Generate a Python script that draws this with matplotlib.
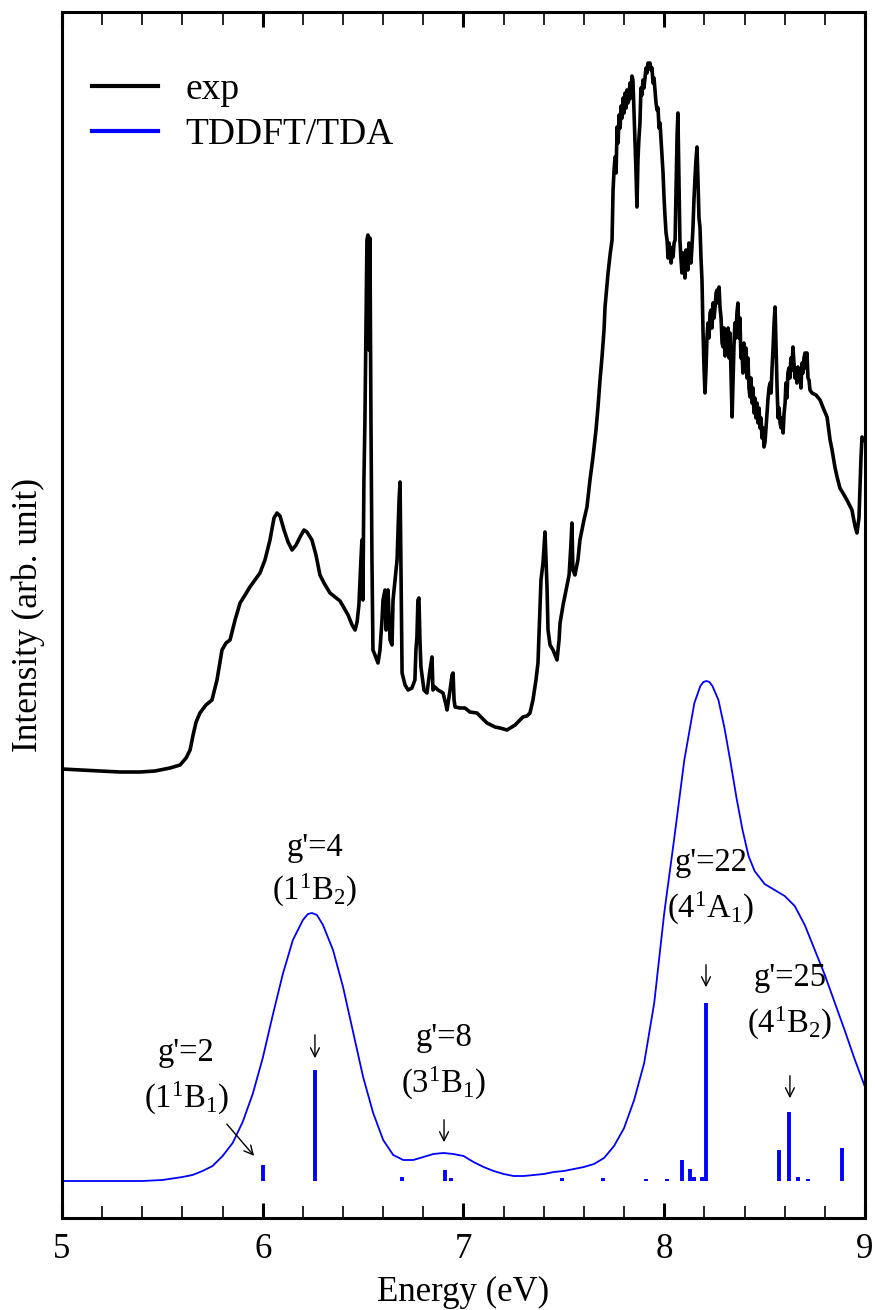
import numpy as np
import matplotlib
matplotlib.use('Agg')
import matplotlib.pyplot as plt
from matplotlib.lines import Line2D

plt.rcParams['font.family'] = ['Liberation Serif', 'DejaVu Serif']
plt.rcParams['mathtext.fontset'] = 'custom'
plt.rcParams['mathtext.rm'] = 'Liberation Serif'
plt.rcParams['mathtext.default'] = 'rm'

## experimental spectrum (energy in eV, intensity in arb. unit)
e_exp = [5.000, 5.090, 5.189, 5.289, 5.389, 5.463, 5.538, 5.588, 5.618, 5.638, 5.653, 5.668, 5.687,
         5.717, 5.747, 5.772, 5.797, 5.817, 5.837, 5.862, 5.887, 5.912, 5.936, 5.961, 5.986, 6.011,
         6.036, 6.056, 6.071, 6.086, 6.106, 6.126, 6.146, 6.166, 6.186, 6.205, 6.220, 6.245, 6.265,
         6.285, 6.305, 6.335, 6.360, 6.385, 6.405, 6.425, 6.445, 6.460, 6.470, 6.479, 6.489, 6.494,
         6.499, 6.504, 6.509, 6.514, 6.519, 6.524, 6.529, 6.534, 6.539, 6.544, 6.549, 6.559, 6.574,
         6.584, 6.594, 6.599, 6.609, 6.614, 6.619, 6.624, 6.634, 6.644, 6.649, 6.659, 6.669, 6.679,
         6.684, 6.689, 6.694, 6.709, 6.724, 6.743, 6.758, 6.763, 6.768, 6.773, 6.778, 6.783, 6.788,
         6.803, 6.818, 6.833, 6.843, 6.848, 6.858, 6.873, 6.898, 6.913, 6.918, 6.933, 6.943, 6.948,
         6.953, 6.958, 6.983, 7.007, 7.032, 7.067, 7.092, 7.117, 7.157, 7.182, 7.217, 7.257, 7.281,
         7.296, 7.316, 7.331, 7.346, 7.361, 7.371, 7.381, 7.386, 7.396, 7.406, 7.411, 7.416, 7.421,
         7.431, 7.446, 7.466, 7.476, 7.481, 7.496, 7.511, 7.526, 7.535, 7.540, 7.545, 7.555, 7.570,
         7.580, 7.600, 7.615, 7.630, 7.645, 7.660, 7.670, 7.680, 7.690, 7.700, 7.705, 7.715, 7.720,
         7.730, 7.740, 7.745, 7.750, 7.755, 7.760, 7.765, 7.770, 7.775, 7.780, 7.785, 7.790, 7.795,
         7.800, 7.805, 7.810, 7.814, 7.819, 7.824, 7.829, 7.834, 7.839, 7.844, 7.849, 7.854, 7.859,
         7.864, 7.869, 7.874, 7.879, 7.884, 7.889, 7.894, 7.899, 7.904, 7.909, 7.914, 7.919, 7.924,
         7.929, 7.934, 7.939, 7.944, 7.949, 7.954, 7.959, 7.964, 7.969, 7.974, 7.979, 7.984, 7.989,
         7.994, 7.999, 8.004, 8.009, 8.014, 8.019, 8.024, 8.029, 8.034, 8.039, 8.044, 8.049, 8.054,
         8.059, 8.064, 8.068, 8.073, 8.078, 8.083, 8.088, 8.093, 8.098, 8.103, 8.108, 8.113, 8.118,
         8.123, 8.128, 8.133, 8.138, 8.143, 8.148, 8.153, 8.158, 8.163, 8.168, 8.173, 8.178, 8.183,
         8.188, 8.193, 8.198, 8.203, 8.208, 8.213, 8.218, 8.223, 8.228, 8.233, 8.238, 8.243, 8.248,
         8.253, 8.258, 8.263, 8.268, 8.273, 8.278, 8.283, 8.288, 8.293, 8.298, 8.303, 8.308, 8.313,
         8.318, 8.323, 8.328, 8.333, 8.338, 8.342, 8.347, 8.352, 8.357, 8.362, 8.367, 8.372, 8.377,
         8.382, 8.387, 8.392, 8.397, 8.402, 8.407, 8.412, 8.417, 8.422, 8.427, 8.432, 8.437, 8.442,
         8.447, 8.452, 8.457, 8.462, 8.467, 8.472, 8.477, 8.482, 8.487, 8.492, 8.497, 8.502, 8.507,
         8.512, 8.517, 8.522, 8.527, 8.532, 8.537, 8.542, 8.547, 8.552, 8.557, 8.562, 8.567, 8.572,
         8.577, 8.582, 8.587, 8.592, 8.597, 8.602, 8.606, 8.611, 8.616, 8.621, 8.626, 8.631, 8.636,
         8.641, 8.646, 8.651, 8.656, 8.661, 8.666, 8.671, 8.676, 8.681, 8.686, 8.691, 8.696, 8.701,
         8.706, 8.711, 8.716, 8.721, 8.726, 8.736, 8.756, 8.776, 8.796, 8.811, 8.826, 8.836, 8.851,
         8.861, 8.875, 8.890, 8.910, 8.935, 8.950, 8.960, 8.970, 8.980, 8.985, 8.995]
i_exp = [449, 448, 447, 446, 446, 447, 450, 453, 460, 468, 483, 496, 505,
         513, 518, 538, 568, 575, 578, 598, 615, 623, 631, 638, 645, 658,
         678, 700, 705, 702, 688, 676, 668, 673, 681, 688, 686, 678, 663,
         643, 635, 625, 621, 617, 610, 603, 593, 588, 596, 613, 658, 678,
         618, 738, 798, 888, 978, 983, 868, 980, 798, 658, 568, 563, 555,
         568, 598, 618, 628, 588, 623, 628, 578, 573, 618, 638, 658, 718,
         736, 638, 545, 533, 528, 530, 538, 568, 581, 618, 620, 578, 551,
         528, 525, 548, 561, 528, 531, 528, 525, 513, 508, 528, 543, 545,
         518, 511, 510, 510, 506, 505, 500, 495, 491, 490, 488, 493, 498,
         501, 502, 505, 518, 538, 555, 611, 638, 655, 686, 658, 631, 588,
         573, 568, 558, 578, 595, 613, 628, 643, 673, 695, 648, 643, 658,
         678, 698, 711, 738, 761, 788, 811, 838, 861, 888, 911, 933, 945,
         963, 978, 1028, 1048, 1061, 1045, 1091, 1075, 1103, 1090, 1112, 1100, 1120,
         1105, 1125, 1110, 1128, 1115, 1118, 1135, 1120, 1142, 1138, 1108, 1080, 1048,
         1011, 1058, 1080, 1095, 1130, 1123, 1138, 1130, 1140, 1150, 1145, 1155, 1150,
         1155, 1148, 1150, 1135, 1140, 1128, 1115, 1108, 1110, 1090, 1095, 1078, 1060,
         1045, 1020, 1001, 985, 978, 960, 975, 968, 955, 970, 961, 975, 978,
         1028, 1083, 1105, 1038, 978, 960, 945, 965, 958, 940, 968, 961, 948,
         975, 968, 955, 971, 990, 1018, 1040, 1058, 1071, 1038, 1000, 991, 960,
         938, 888, 850, 825, 848, 881, 895, 880, 905, 908, 890, 915, 900,
         911, 925, 928, 915, 931, 910, 900, 875, 871, 890, 862, 885, 870,
         890, 860, 885, 840, 801, 830, 870, 895, 880, 905, 915, 880, 900,
         860, 868, 845, 875, 850, 870, 840, 860, 830, 821, 840, 815, 830,
         805, 820, 800, 815, 795, 810, 790, 800, 780, 790, 771, 776, 790,
         805, 820, 830, 835, 825, 850, 870, 895, 911, 870, 830, 800, 810,
         795, 790, 800, 785, 805, 815, 835, 820, 845, 850, 840, 860, 848,
         871, 855, 840, 850, 835, 851, 840, 845, 830, 855, 845, 860, 865,
         850, 865, 840, 838, 828, 825, 823, 818, 808, 801, 778, 768, 750,
         741, 730, 725, 718, 708, 692, 685, 700, 760, 781, 778]

## TDDFT/TDA broadened spectrum
e_calc = [5.000, 5.200, 5.400, 5.500, 5.600, 5.650, 5.700, 5.750, 5.800, 5.850, 5.900, 5.950,
          6.000, 6.050, 6.100, 6.150, 6.200, 6.225, 6.245, 6.270, 6.300, 6.350, 6.400, 6.450,
          6.500, 6.550, 6.600, 6.650, 6.700, 6.750, 6.800, 6.850, 6.900, 6.950, 7.000, 7.050,
          7.100, 7.150, 7.200, 7.250, 7.300, 7.350, 7.400, 7.450, 7.500, 7.550, 7.600, 7.650,
          7.700, 7.750, 7.800, 7.850, 7.900, 7.950, 8.000, 8.050, 8.100, 8.150, 8.180, 8.195,
          8.210, 8.225, 8.240, 8.270, 8.300, 8.330, 8.360, 8.390, 8.420, 8.450, 8.500, 8.550,
          8.600, 8.650, 8.700, 8.750, 8.800, 8.850, 8.900, 8.950, 9.000]
i_calc = [37, 37, 37, 38, 41, 43, 47, 52, 62, 75, 96, 124,
          160, 203, 244, 278, 298, 304, 305, 303, 293, 268, 231, 186,
          141, 105, 78, 63, 58, 58, 61, 64, 65, 64, 62, 56,
          51, 47, 44, 42, 42, 43, 44, 46, 47, 49, 51, 54,
          60, 72, 90, 118, 155, 215, 305, 380, 458, 515, 532, 536,
          537, 536, 532, 518, 490, 456, 420, 388, 362, 347, 334, 328,
          322, 312, 293, 268, 243, 215, 187, 158, 131]

## oscillator strengths (sticks)
calc_offset = 37
e_stick = [6.001, 6.260, 6.694, 6.908, 6.938, 7.491, 7.695, 7.909, 8.014, 8.088, 8.128, 8.148,
           8.188, 8.208, 8.572, 8.621, 8.666, 8.716, 8.885]
i_stick = [53, 148, 41, 48, 40, 40, 40, 39, 39, 58, 49, 41,
           41, 215, 68, 106, 41, 39, 70]

## state labels: text, x, y of "g'" line, y of symmetry line
lab_g = ["g'=2", "g'=4", "g'=8", "g'=22", "g'=25"]
lab_sym = [r'(1$^1$B$_1$)', r'(1$^1$B$_2$)', r'(3$^1$B$_1$)', r'(4$^1$A$_1$)', r'(4$^1$B$_2$)']
lab_x = [5.62, 6.26, 6.903, 8.233, 8.626]
lab_yg = [165, 370, 180, 355, 240]
lab_ys = [120, 328, 135, 310, 195]
# arrows: start (x, y) -> end (x, y)
arr_x0 = [5.812, 6.260, 6.903, 8.208, 8.626]
arr_y0 = [96, 186, 101, 256, 145]
arr_x1 = [5.966, 6.260, 6.903, 8.208, 8.626]
arr_y1 = [60, 157, 73, 228, 117]

fig = plt.figure(figsize=(8.75, 13.10), dpi=100)
ax = fig.add_axes([62/875., 1-1218/1310., 803/875., 1206/1310.])

ax.plot(e_exp, i_exp, color='k', lw=2.6)
ax.plot(e_calc, i_calc, color='#0000ff', lw=1.3)
ax.vlines(e_stick, calc_offset, i_stick, color='#0000ff', lw=2.8)

for k in range(len(lab_g)):
    ax.text(lab_x[k], lab_yg[k], lab_g[k], ha='center', va='center', fontsize=23.5)
    ax.text(lab_x[k], lab_ys[k], lab_sym[k], ha='center', va='center', fontsize=23.5)
    ax.annotate('', xy=(arr_x1[k], arr_y1[k]), xytext=(arr_x0[k], arr_y0[k]),
                arrowprops=dict(arrowstyle='->', lw=1.0, color='k', mutation_scale=16))

ax.set_xlim(5, 9)
ax.set_ylim(0, 1206)
ax.set_xticks([5, 6, 7, 8, 9])
ax.set_xticks(np.arange(5, 9.01, 0.2), minor=True)
ax.set_yticks([])
ax.tick_params(axis='x', which='both', direction='in', top=True, labelsize=25, pad=11)
ax.tick_params(axis='x', which='major', length=11, width=2.2)
ax.tick_params(axis='x', which='minor', length=9, width=1.2)
for s in ax.spines.values():
    s.set_linewidth(2.2)

ax.set_xlabel('Energy (eV)', fontsize=25, labelpad=7)
ax.set_ylabel('Intensity (arb. unit)', fontsize=25.5, labelpad=12)

handles = [Line2D([], [], color='k', lw=3), Line2D([], [], color='#0000ff', lw=3)]
ax.legend(handles, ['exp', 'TDDFT/TDA'], loc='upper left', frameon=False, fontsize=27,
          handlelength=1.75, handletextpad=0.75, labelspacing=0.3,
          bbox_to_anchor=(0.0, 0.975), borderaxespad=0.4)

plt.savefig('out.png', dpi=100)
